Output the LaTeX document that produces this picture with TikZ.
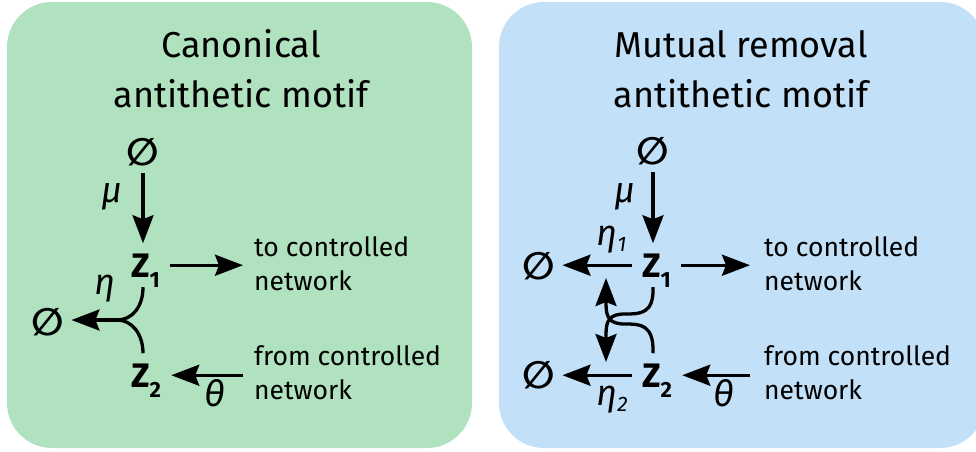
\documentclass[tikz,border=0pt]{standalone}
\usepackage{fontspec}
\setmainfont{Fira Sans}
\newfontfamily\symfont{DejaVu Sans}
\usetikzlibrary{arrows.meta,calc}
\definecolor{pgreen}{RGB}{176,226,192}
\definecolor{pblue}{RGB}{194,224,247}
\newcommand\zsym[1]{\fontsize{34}{34}\selectfont\bfseries Z\raisebox{-10pt}[0pt][0pt]{\fontsize{22}{22}\selectfont #1}}
\newcommand\twoline[2]{\fontsize{26.5}{34}\selectfont\vtop{\hbox{#1}\hbox{#2}}}
\newcommand\titletext[2]{\fontsize{36}{50}\selectfont\vtop{\hbox to 0pt{\hss #1\hss}\hbox to 0pt{\hss #2\hss}}}
\newcommand\etasub[1]{η\raisebox{-6pt}{\fontsize{21}{21}\selectfont #1}}
\begin{document}
\begin{tikzpicture}[x=1pt,y=-1pt,
  panel/.style={rounded corners=45pt},
  phi/.style={font=\symfont\bfseries\fontsize{38}{38}\selectfont, inner sep=7pt},
  zn/.style={inner sep=10pt, anchor=base west},
  greek/.style={font=\itshape\fontsize{36}{36}\selectfont, inner sep=0pt, anchor=base},
  lbl/.style={inner sep=0pt, anchor=base west},
  ttl/.style={inner sep=0pt, anchor=base},
  plain/.style={line width=3.3pt},
  arr/.style={line width=3.3pt,-{Stealth[length=28pt,width=21pt,inset=4pt]}}]
\useasboundingbox (0,0) rectangle (976,451);
\fill[pgreen, panel] (7,2) rectangle (472,448);
\fill[pblue, panel] (499,2) rectangle (985,448);

% ---------- left panel ----------
\node[ttl] (ttlA) at (241,57) {\titletext{Canonical}{antithetic motif}};
\node[phi] (e0) at (143,152) {∅};
\node[greek] (mu) at (112,202) {μ};
\node[zn] (z1) at (121,277) {\zsym{1}};
\node[zn] (z2) at (121,387) {\zsym{2}};
\node[phi] (e1) at (48,322) {∅};
\node[greek] (eta) at (105,294) {η};
\node[greek] (th) at (215,406) {θ};
\node[lbl] (t1) at (254,256) {\twoline{to controlled}{network}};
\node[lbl] (f1) at (254,365) {\twoline{from controlled}{network}};
\coordinate (J) at (117,320);

\draw[arr] (e0.south) -- (e0.south |- z1.north);
\draw[arr, shorten >=11pt] (z1.east) -- (z1.east -| t1.west);
\draw[arr, shorten <=11pt] (z2.east -| f1.west) -- (z2.east);
\draw[plain] (e0 |- z1.south) .. controls (143,307) and (132,320) .. (J);
\draw[plain] (e0 |- z2.north) .. controls (143,334) and (132,320) .. (J);
\draw[arr] (J) -- (J -| e1.east);

% ---------- right panel ----------
\node[ttl] (ttlB) at (741,57) {\titletext{Mutual removal}{antithetic motif}};
\node[phi] (r0) at (653,151) {∅};
\node[greek] (rmu) at (625,202) {μ};
\node[zn] (rz1) at (632,277) {\zsym{1}};
\node[zn] (rz2) at (632,387) {\zsym{2}};
\node[phi] (r1) at (539,266) {∅};
\node[phi] (r2) at (539,375) {∅};
\node[greek, anchor=base west] (eta1) at (596,245) {\etasub{1}};
\node[greek, anchor=base west] (eta2) at (596,405) {\etasub{2}};
\node[greek] (rth) at (724,406) {θ};
\node[lbl] (rt1) at (764,256) {\twoline{to controlled}{network}};
\node[lbl] (rf1) at (764,365) {\twoline{from controlled}{network}};
\coordinate (utip) at (606,278);
\coordinate (dtip) at (606,362);

\draw[arr] (r0.south) -- (r0.south |- rz1.north);
\draw[arr, shorten >=14pt] (rz1.east) -- (rz1.east -| rt1.west);
\draw[arr, shorten <=14pt] (rz2.east -| rf1.west) -- (rz2.east);
\draw[arr] (rz1.west) -- (rz1.west -| r1.east);
\draw[arr] (rz2.west) -- (rz2.west -| r2.east);
\draw[arr] (r0 |- rz1.south) .. controls (654,314) and (640,314) .. (625,314)
   .. controls (610,314) and (606,320) .. (606,334) -- (dtip);
\draw[arr] (r0 |- rz2.north) .. controls (654,324) and (640,324) .. (625,324)
   .. controls (610,324) and (606,318) .. (606,304) -- (utip);
\end{tikzpicture}
\end{document}
